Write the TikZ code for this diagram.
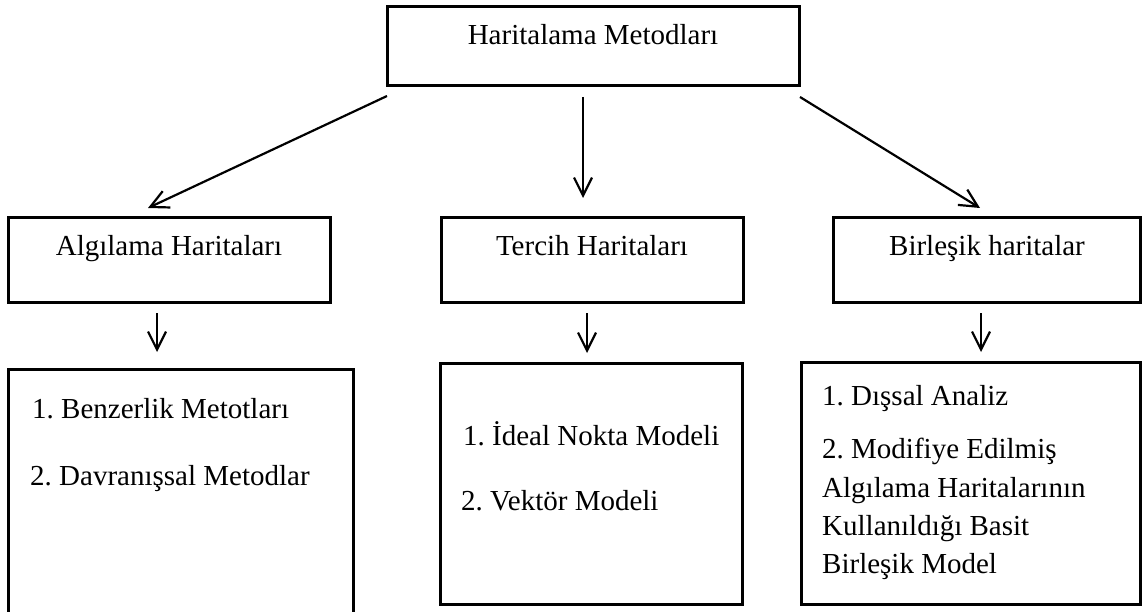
\documentclass[tikz,border=0pt]{standalone}
\usepackage{fontspec}
\setmainfont{Liberation Serif}
\usetikzlibrary{arrows.meta,calc}
\frenchspacing
\begin{document}
\begin{tikzpicture}[x=1pt,y=-1pt,
  box/.style={draw, line width=3pt, inner sep=0pt, outer sep=0pt},
  lbl/.style={font=\fontsize{29}{35}\selectfont, inner sep=0pt, anchor=base},
  item/.style={lbl, anchor=base west},
  arr/.style={line width=2.2pt, -{Straight Barb[length=18pt,width=18pt]}}]
\useasboundingbox (0,0) rectangle (1142,612);
\clip (0,0) rectangle (1142,612);

% root
\node[box, minimum width=412pt, minimum height=79pt] (top) at (593,46.5) {};
\node[lbl] (topT) at (593,45) {Haritalama Metodları};

% second level
\node[box, minimum width=322pt, minimum height=84pt] (alg) at (169,260) {};
\node[lbl] (algT) at (169,255) {Algılama Haritaları};
\node[box, minimum width=302pt, minimum height=84pt] (ter) at (592,260) {};
\node[lbl] (terT) at (592,255) {Tercih Haritaları};
\node[box, minimum width=307pt, minimum height=84pt] (bir) at (986.5,260) {};
\node[lbl] (birT) at (987,255) {Birleşik haritalar};

% method lists
\node[box, minimum width=345pt, minimum height=251pt] (algL) at (180.5,494.5) {};
\node[item] (a1) at (32,418) {1. Benzerlik Metotları};
\node[item] (a2) at (30,485) {2. Davranışsal Metodlar};

\node[box, minimum width=302pt, minimum height=241pt] (terL) at (591,483.5) {};
\node[item] (t1) at (463,445) {1. İdeal Nokta Modeli};
\node[item] (t2) at (461,510) {2. Vektör Modeli};

\node[box, minimum width=339pt, minimum height=242pt] (birL) at (970.5,483) {};
\node[item] (b1) at (822,405) {1. Dışsal Analiz};
\node[item] (b2) at (822,458) {2. Modifiye Edilmiş};
\node[item] (b3) at (822,497) {Algılama Haritalarının};
\node[item] (b4) at (822,535) {Kullanıldığı Basit};
\node[item] (b5) at (822,573) {Birleşik Model};

% connectors
\draw[arr] ($(top.south west)+(0,10)$) -- ($(alg.north west)+(140,-10)$);
\draw[arr] ($(top.south)+(-10,11)$) -- ($(ter.north)+(-9,-20)$);
\draw[arr] ($(top.south east)+(1,11)$) -- ($(bir.north)+(-6.5,-10)$);

\draw[arr] ($(alg.south)+(-12,11)$) -- ($(algL.north)+(-23.5,-17)$);
\draw[arr] ($(ter.south)+(-5,11)$) -- ($(terL.north)+(-4,-10)$);
\draw[arr] ($(bir.south)+(-5.5,11)$) -- ($(birL.north)+(10.5,-10)$);
\end{tikzpicture}
\end{document}
